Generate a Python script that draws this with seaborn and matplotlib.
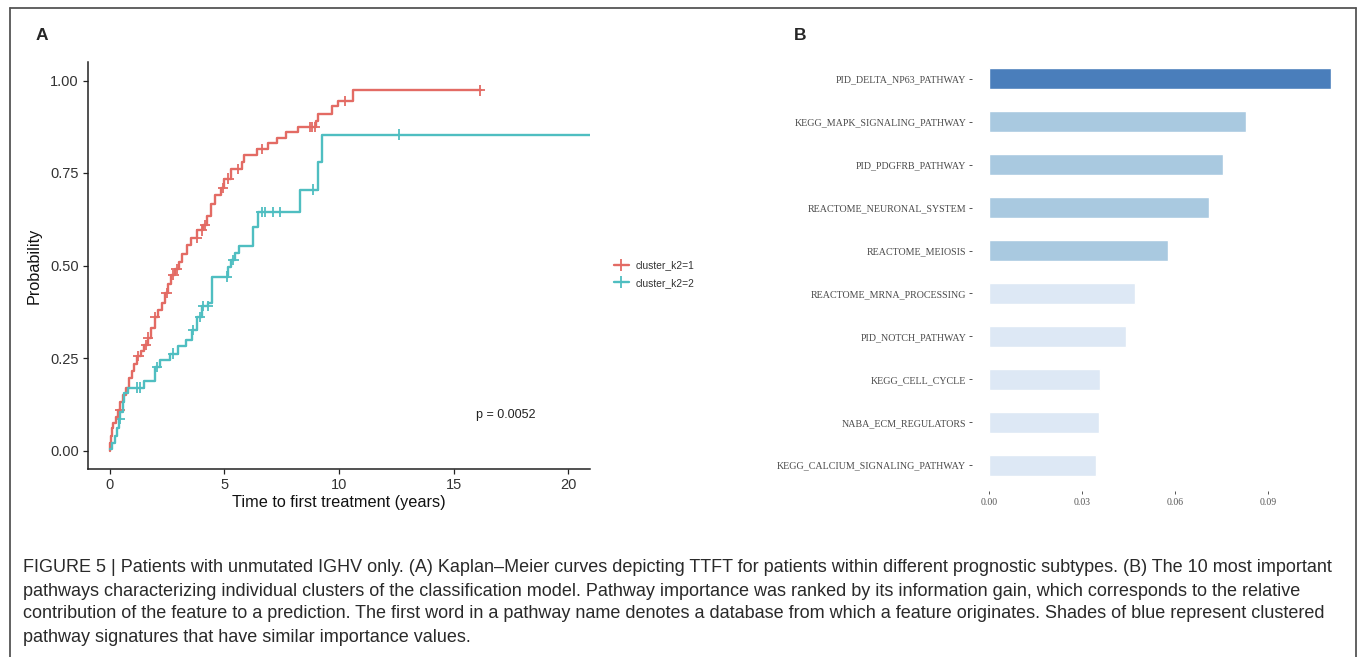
import numpy as np
import pandas as pd
import matplotlib
matplotlib.use("Agg")
import matplotlib.pyplot as plt
from matplotlib.lines import Line2D
import seaborn as sns

# ---- Panel A: cumulative incidence of first treatment (Kaplan-Meier) ----
c1_times = [0.0, 0.02, 0.05, 0.1, 0.15, 0.25, 0.35, 0.45, 0.55, 0.7, 0.85, 0.95,
            1.05, 1.2, 1.35, 1.5, 1.65, 1.8, 1.95, 2.1, 2.25, 2.4, 2.55, 2.65,
            2.85, 3.0, 3.15, 3.35, 3.55, 3.8, 4.05, 4.25, 4.4, 4.6, 4.85, 5.0,
            5.3, 5.75, 5.85, 6.4, 6.9, 7.3, 7.7, 8.2, 9.0, 9.1, 9.7, 9.95, 10.6, 16.2]
c1_prob = [0.0, 0.02, 0.04, 0.06, 0.075, 0.09, 0.11, 0.13, 0.15, 0.17, 0.195, 0.215,
           0.235, 0.255, 0.27, 0.285, 0.305, 0.33, 0.36, 0.38, 0.40, 0.425, 0.45, 0.475,
           0.49, 0.51, 0.53, 0.555, 0.575, 0.595, 0.61, 0.635, 0.665, 0.69, 0.71, 0.735,
           0.76, 0.78, 0.80, 0.815, 0.83, 0.845, 0.86, 0.875, 0.89, 0.91, 0.93, 0.945, 0.973, 0.973]
c1_censor = [0.44, 1.24, 1.57, 1.67, 1.97, 2.47, 2.77, 2.91, 3.78, 4.0, 4.15, 4.95,
             5.17, 5.6, 6.62, 8.73, 8.8, 8.95, 10.26, 16.16]

c2_times = [0.0, 0.1, 0.2, 0.3, 0.4, 0.45, 0.55, 0.6, 0.8, 1.5, 1.97, 2.2, 2.6, 2.95,
            3.3, 3.6, 3.8, 4.0, 4.3, 4.45, 5.15, 5.3, 5.45, 5.65, 6.25, 6.45, 8.3,
            9.1, 9.25, 21.0]
c2_prob = [0.005, 0.02, 0.04, 0.06, 0.085, 0.105, 0.13, 0.155, 0.17, 0.187, 0.225, 0.245,
           0.262, 0.282, 0.30, 0.325, 0.36, 0.39, 0.40, 0.47, 0.495, 0.515, 0.535, 0.552,
           0.605, 0.645, 0.705, 0.78, 0.854, 0.854]
c2_censor = [0.44, 1.16, 1.31, 2.04, 2.77, 3.64, 3.93, 4.08, 4.29, 5.09, 5.39, 6.62,
             6.77, 7.13, 7.42, 8.88, 12.6]

groups = ["cluster_k2=1", "cluster_k2=2"]
colors = {"cluster_k2=1": "#E36B64", "cluster_k2=2": "#4FBEC1"}
p_label = "p = 0.0052"

# ---- Panel B: pathway importance ----
pathways = ["PID_DELTA_NP63_PATHWAY", "KEGG_MAPK_SIGNALING_PATHWAY", "PID_PDGFRB_PATHWAY",
            "REACTOME_NEURONAL_SYSTEM", "REACTOME_MEIOSIS", "REACTOME_MRNA_PROCESSING",
            "PID_NOTCH_PATHWAY", "KEGG_CELL_CYCLE", "NABA_ECM_REGULATORS",
            "KEGG_CALCIUM_SIGNALING_PATHWAY"]
importance = [0.1103, 0.0829, 0.0754, 0.0709, 0.0576, 0.0470, 0.0441, 0.0358, 0.0354, 0.0344]
shade_group = [0, 1, 1, 1, 1, 2, 2, 2, 2, 2]
shades = ["#4A7EBB", "#A9C9E0", "#DDE8F5"]
bar_ticks = [0.00, 0.03, 0.06, 0.09]

caption_lines = [
    "FIGURE 5 | Patients with unmutated IGHV only. (A) Kaplan\u2013Meier curves depicting TTFT for patients within different prognostic subtypes. (B) The 10 most important",
    "pathways characterizing individual clusters of the classification model. Pathway importance was ranked by its information gain, which corresponds to the relative",
    "contribution of the feature to a prediction. The first word in a pathway name denotes a database from which a feature originates. Shades of blue represent clustered",
    "pathway signatures that have similar importance values.",
]

sns.set_style("ticks")
plt.rcParams["font.family"] = ["Liberation Sans", "DejaVu Sans"]

W, H = 1360, 657
fig = plt.figure(figsize=(W / 100, H / 100), dpi=100)


def fx(px):
    return px / W


def fy(py):
    return 1 - py / H


def step_value(times, probs, t):
    i = np.searchsorted(times, t, side="right") - 1
    return probs[max(i, 0)]


# ---------------- Panel A ----------------
axA = fig.add_axes([fx(88), fy(469), fx(590) - fx(88), fy(62) - fy(469)])
curves = pd.concat([
    pd.DataFrame({"time": c1_times, "prob": c1_prob, "group": groups[0]}),
    pd.DataFrame({"time": c2_times, "prob": c2_prob, "group": groups[1]}),
])
sns.lineplot(data=curves, x="time", y="prob", hue="group", palette=colors,
             drawstyle="steps-post", estimator=None, sort=False, linewidth=1.7,
             legend=False, ax=axA)

cens = pd.concat([
    pd.DataFrame({"time": c1_censor,
                  "prob": [step_value(c1_times, c1_prob, t) for t in c1_censor],
                  "group": groups[0]}),
    pd.DataFrame({"time": c2_censor,
                  "prob": [step_value(c2_times, c2_prob, t) for t in c2_censor],
                  "group": groups[1]}),
])
sns.scatterplot(data=cens, x="time", y="prob", hue="group", palette=colors,
                marker="+", s=55, linewidth=1.3, legend=False, ax=axA)

axA.set_xlim(-0.96, 20.96)
axA.set_ylim(-0.05, 1.05)
axA.set_xticks([0, 5, 10, 15, 20])
axA.set_yticks([0.0, 0.25, 0.5, 0.75, 1.0])
axA.set_yticklabels(["0.00", "0.25", "0.50", "0.75", "1.00"])
axA.tick_params(labelsize=10.5, colors="#222222", length=3.5, width=0.9, pad=3)
axA.tick_params(axis="both", labelcolor="#333333")
for s in ["top", "right"]:
    axA.spines[s].set_visible(False)
for s in ["left", "bottom"]:
    axA.spines[s].set_color("#222222")
    axA.spines[s].set_linewidth(1.1)
axA.set_xlabel("Time to first treatment (years)", fontsize=11.7, color="#111111", labelpad=2)
axA.set_ylabel("Probability", fontsize=11.7, color="#111111", labelpad=6)
axA.text(17.3, 0.097, p_label, fontsize=9, color="#222222", ha="center", va="center")

handles = [Line2D([0], [0], color=colors[g], lw=1.7, marker="+", markersize=9,
                  markeredgewidth=1.3) for g in groups]
fig.legend(handles, groups, loc="center left", bbox_to_anchor=(fx(605), fy(274)),
           frameon=False, fontsize=7.4, handlelength=1.4, handletextpad=0.7,
           labelspacing=0.75, labelcolor="#333333")

# ---------------- Panel B ----------------
axB = fig.add_axes([fx(972), fy(491), fx(1348) - fx(972), fy(53) - fy(491)])
bar_df = pd.DataFrame({"pathway": pathways, "importance": importance,
                       "shade": [shades[g] for g in shade_group]})
sns.barplot(data=bar_df, x="importance", y="pathway", hue="pathway",
            palette=dict(zip(pathways, bar_df["shade"])), orient="h", width=0.5,
            saturation=1, legend=False, ax=axB)
axB.set_xlim(-0.0055, 0.1158)
axB.set_ylim(9.6, -0.6)
axB.set_xticks(bar_ticks)
axB.set_xticklabels([f"{t:.2f}" for t in bar_ticks])
for s in axB.spines.values():
    s.set_visible(False)
axB.set_xlabel("")
axB.set_ylabel("")
for lab in axB.get_yticklabels():
    lab.set_fontfamily("Liberation Serif")
    lab.set_fontsize(7.2)
    lab.set_color("#4a4a4a")
for lab in axB.get_xticklabels():
    lab.set_fontfamily("Liberation Serif")
    lab.set_fontsize(7.0)
    lab.set_color("#555555")
axB.tick_params(axis="y", length=2.2, width=0.7, color="#555555", pad=2)
axB.tick_params(axis="x", length=2.2, width=0.7, color="#555555", pad=3)

# ---------------- Panel letters, caption and frame ----------------
fig.text(fx(42), fy(35), "A", fontsize=12.5, fontweight="bold", ha="center", va="center")
fig.text(fx(800), fy(35), "B", fontsize=12.5, fontweight="bold", ha="center", va="center")

for i, line in enumerate(caption_lines):
    fig.text(fx(23), fy(568 + 23 * i), line, fontsize=13.0, color="#2a2a2a",
             ha="left", va="center")

frame_kw = dict(color="#555555", lw=1.3, transform=fig.transFigure)
fig.add_artist(Line2D([fx(10), fx(10)], [fy(8), 0], **frame_kw))
fig.add_artist(Line2D([fx(10), fx(1356)], [fy(8), fy(8)], **frame_kw))
fig.add_artist(Line2D([fx(1356), fx(1356)], [fy(8), 0], **frame_kw))

fig.savefig("out.png", dpi=100)
